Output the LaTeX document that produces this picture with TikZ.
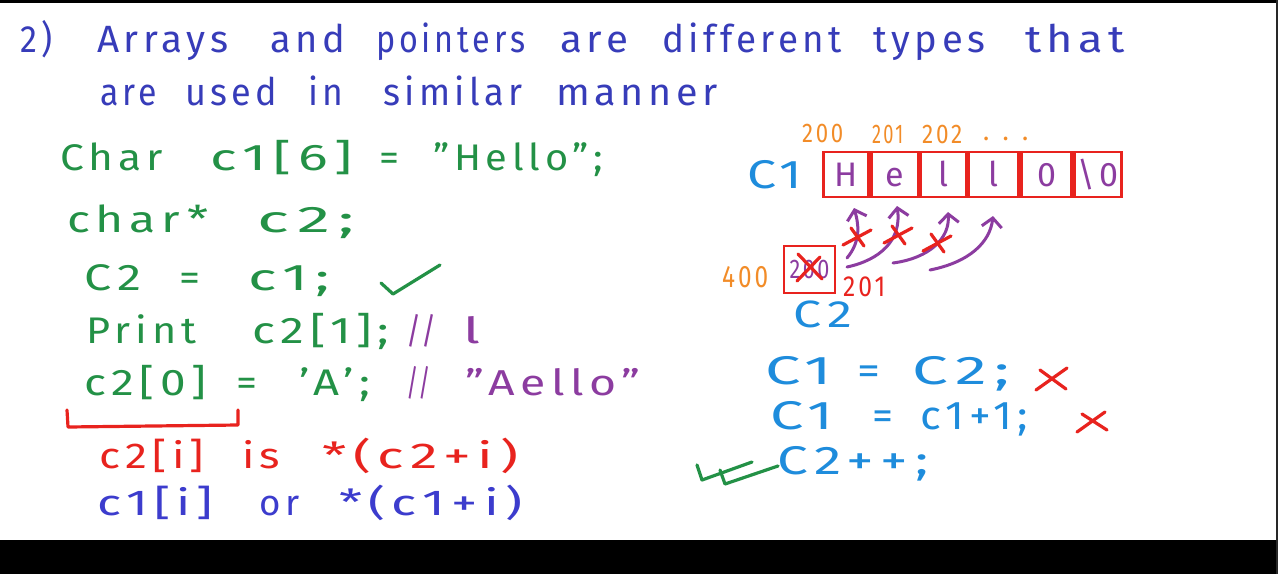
\documentclass[tikz,border=0pt]{standalone}
\usepackage{fontspec}
\setmainfont{Fira Sans}[LetterSpace=12]
\usepackage{graphicx}
\usetikzlibrary{arrows.meta}
\definecolor{tblue}{RGB}{55,60,185}
\definecolor{cgreen}{RGB}{35,145,70}
\definecolor{cpurple}{RGB}{140,60,160}
\definecolor{cred}{RGB}{232,35,30}
\definecolor{corange}{RGB}{242,140,40}
\definecolor{ccyan}{RGB}{30,140,220}
\definecolor{cblue}{RGB}{60,60,205}
\definecolor{edge}{RGB}{40,40,40}
\newcommand\W[2]{\resizebox{#1pt}{\height}{#2}}
\newcommand\fs[1]{\fontsize{#1}{#1}\selectfont}
\begin{document}
\begin{tikzpicture}[x=1pt,y=-1pt,
  w/.style={anchor=base west, inner sep=0pt},
  ttl/.style={w, text=tblue, font=\fs{38}},
  grn/.style={w, text=cgreen, font=\fs{37}},
  pur/.style={w, text=cpurple, font=\fs{36}},
  rdt/.style={w, text=cred, font=\fs{36}},
  blt/.style={w, text=cblue, font=\fs{36}},
  cyt/.style={w, text=ccyan, font=\fs{40}},
  org/.style={w, text=corange, font=\fs{27}},
  cell/.style={draw=cred, line width=2.8pt, inner sep=0pt, minimum height=45pt,
    text=cpurple, font=\fs{34}, text height=24pt, text depth=0pt, anchor=west},
  pen/.style={line width=3.2pt, line cap=round, line join=round},
  curv/.style={cpurple, line width=3pt, line cap=round,
    -{Straight Barb[length=9pt,width=20pt,line width=3pt]}}
]
\useasboundingbox (0,0) rectangle (1278,574);
\fill[white] (0,0) rectangle (1278,574);
\fill[black] (0,0) rectangle (1278,2.5);
\fill[black] (0,540) rectangle (1278,574);
\fill[edge] (1275.5,0) rectangle (1278,574);

% title
\node[ttl] (t1) at (20,52) {\W{32}{2)}};
\node[ttl] (t2) at (97,52) {\W{131}{Arrays}};
\node[ttl] (t3) at (270,52) {\W{75}{and}};
\node[ttl] (t4) at (376,52) {\W{149}{pointers}};
\node[ttl] (t5) at (560,52) {\W{68}{are}};
\node[ttl] (t6) at (662,52) {\W{180}{different}};
\node[ttl] (t7) at (873,52) {\W{112}{types}};
\node[ttl] (t8) at (1025,52) {\W{100}{that}};
\node[ttl] (u1) at (100,105) {\W{57}{are}};
\node[ttl] (u2) at (185,105) {\W{92}{used}};
\node[ttl] (u3) at (308,105) {\W{35}{in}};
\node[ttl] (u4) at (383,105) {\W{139}{similar}};
\node[ttl] (u5) at (556,105) {\W{162}{manner}};

% code
\node[grn] (a1) at (60,170) {\W{103}{Char}};
\node[grn] (a2) at (210,170) {\W{142}{c1[6]}};
\node[grn] (a3) at (379,170) {\W{20}{=}};
\node[grn] (a4) at (433,170) {\W{170}{"Hello";}};
\node[grn] (b1) at (67,232) {\W{141}{char*}};
\node[grn] (b2) at (257,232) {\W{97}{c2;}};
\node[grn] (c1) at (84,290) {\W{57}{C2}};
\node[grn] (c2) at (179,290) {\W{21}{=}};
\node[grn] (c3) at (248,290) {\W{82}{c1;}};
\draw[pen, cgreen] (381,283) -- (393,294) -- (440,265);
\node[grn] (d1) at (86,343) {\W{110}{Print}};
\node[grn] (d2) at (252,343) {\W{137}{c2[1];}};
\node[pur] (d3) at (406,343) {\W{30}{//}};
\node[pur] (d4) at (463,343) {\W{17}{l}};
\node[grn] (e1) at (84,395) {\W{122}{c2[0]}};
\node[grn] (e2) at (236,395) {\W{21}{=}};
\node[grn] (e3) at (299,395) {\W{71}{'A';}};
\node[pur] (e4) at (406,395) {\W{25}{//}};
\node[pur] (e5) at (465,395) {\W{175}{"Aello"}};
\draw[pen, cred] (67,410) -- (68,427) -- (238,425) -- (238,410);
\node[rdt] (f1) at (99,468) {\W{105}{c2[i]}};
\node[rdt] (f2) at (242,468) {\W{38}{is}};
\node[rdt] (f3) at (322,468) {\W{196}{*(c2+i)}};
\node[blt] (g1) at (97,515) {\W{116}{c1[i]}};
\node[blt] (g2) at (259,515) {\W{40}{or}};
\node[blt] (g3) at (339,515) {\W{183}{*(c1+i)}};

% array c1
\node[org] (n200) at (802,142) {\W{41}{200}};
\node[org] (n201) at (872,143) {\W{31}{201}};
\node[org] (n202) at (922,143) {\W{40}{202}};
\node[org] (ndots) at (983,140) {\W{45}{. . .}};
\node[cyt] (c1lbl) at (747,188) {\W{55}{C1}};
\node[cell, minimum width=45pt] (k0) at (822,174.5) {H};
\node[cell, minimum width=47pt] (k1) at (k0.east) {e};
\node[cell, minimum width=45pt] (k2) at (k1.east) {l};
\node[cell, minimum width=50pt] (k3) at (k2.east) {l};
\node[cell, minimum width=50pt] (k4) at (k3.east) {0};
\node[cell, minimum width=47pt] (k5) at (k4.east) {\textbackslash0};

% pointer c2
\node[w, text=corange, font=\fs{31}] (n400) at (722,287) {\W{46}{400}};
\node[draw=cred, line width=2.8pt, minimum width=51pt, minimum height=47pt, inner sep=0pt,
  text=cpurple, font=\fs{27}] (p) at (809.5,269.5) {\W{40}{200}};
\draw[pen, cred] (798,254) -- (822,279);
\draw[pen, cred] (820,257) -- (797,281);
\node[w, text=cred, font=\fs{29}] (p201) at (843,296) {\W{42}{201}};
\node[w, text=ccyan, font=\fs{38}] (c2lbl) at (793,327) {\W{59}{C2}};

\coordinate (s1) at (847,258);
\coordinate (s2) at (847,267);
\coordinate (s3) at (893,263);
\coordinate (s4) at (930,270);
\coordinate (h1) at (854,208);
\coordinate (h2) at (897,206);
\coordinate (h3) at (948,212);
\coordinate (h4) at (993,216);
\draw[curv] (s1) .. controls (862,240) and (858,222) .. (h1);
\draw[curv] (s2) .. controls (880,260) and (902,240) .. (h2);
\draw[curv] (s3) .. controls (930,258) and (950,238) .. (h3);
\draw[curv] (s4) .. controls (970,262) and (990,242) .. (h4);
\foreach \cx/\cy in {857/237, 898/235, 937/243}{
  \draw[pen, cred] (\cx-14,\cy+8) -- (\cx+14,\cy-7);
  \draw[pen, cred] (\cx-6,\cy-9) -- (\cx+7,\cy+9);
}

% statements
\node[cyt] (h1a) at (765,384) {\W{67}{C1}};
\node[cyt] (h1b) at (857,384) {\W{23}{=}};
\node[cyt] (h1c) at (912,384) {\W{98}{C2;}};
\draw[pen, cred] (1036,390) -- (1067,368);
\draw[pen, cred] (1040,370) -- (1066,389);
\node[cyt] (h2a) at (770,429) {\W{63}{C1}};
\node[cyt] (h2b) at (872,429) {\W{21}{=}};
\node[cyt] (h2c) at (920,429) {\W{108}{c1+1;}};
\draw[pen, cred] (1077,432) -- (1105,412);
\draw[pen, cred] (1082,414) -- (1107,430);
\draw[pen, cgreen] (697,465) -- (702,480) -- (752,462);
\draw[pen, cgreen] (720,470) -- (725,484) -- (778,466);
\node[cyt] (h3a) at (777,474) {\W{151}{C2++;}};
\end{tikzpicture}
\end{document}
